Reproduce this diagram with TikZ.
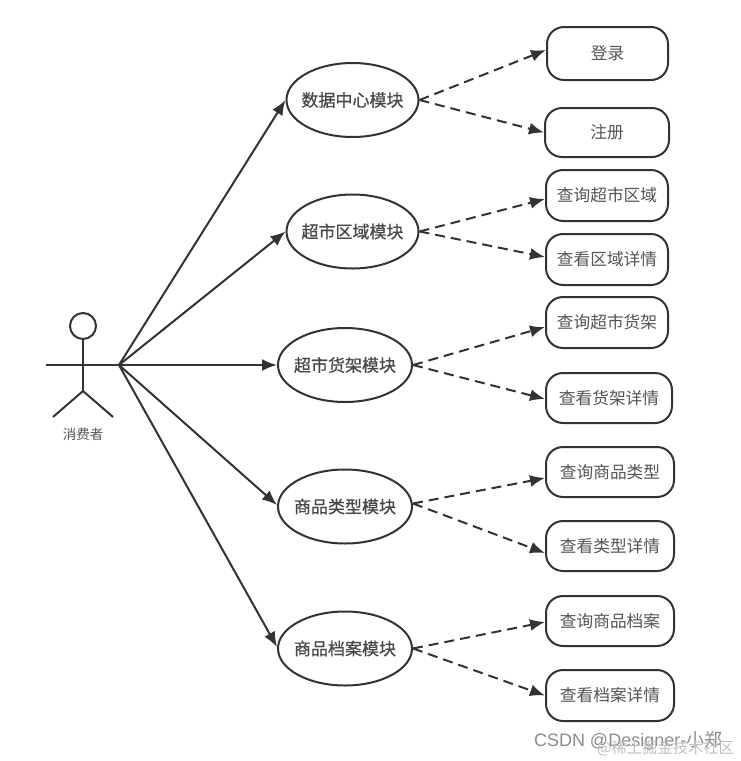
\documentclass[tikz,border=0pt]{standalone}
\usepackage{fontspec}
\usepackage{xcolor}
\usepackage{tikz}
\usetikzlibrary{arrows.meta, shapes.geometric}
\setmainfont{Noto Sans CJK SC}
\newfontfamily\latinfont{Liberation Sans}
\newfontfamily\modfont[FakeBold=0.7]{Noto Sans CJK SC}
\definecolor{linegray}{HTML}{333333}
\definecolor{textgray}{HTML}{555555}
\newcommand{\boxtext}[1]{\raisebox{-1pt}{\makebox[80pt]{#1}}}

\begin{document}
\begin{tikzpicture}[x=1pt, y=-1pt, line width=2pt, draw=linegray,
        module/.style={draw, ellipse, minimum width=134pt, minimum height=74pt, inner sep=0pt, font=\fontsize{17}{18}\modfont\selectfont, text=black!72},
        func/.style={draw, rounded corners=17pt, inner sep=0pt, fill=white, font=\fontsize{16.7}{18}\selectfont, text=textgray},
        solidarrow/.style={-{Latex[length=15pt, width=12pt]}, linegray},
        dasharrow/.style={-{Latex[length=15pt, width=12pt]}, linegray, dash pattern=on 10pt off 6pt}]
            \useasboundingbox (0,0) rectangle (741,761);

            % Actor
            \node (head) [draw, circle, minimum size=26pt, inner sep=0pt] at (83,326) {};
            \coordinate (hip) at (83,391);
            \coordinate (armL) at (46,365);
            \coordinate (armR) at (119,365);
            \coordinate (footL) at (53,417);
            \coordinate (footR) at (113,417);
            \node (actor) [font=\fontsize{13.5}{15}\selectfont, text=textgray] at (83,434) {消费者};
            \draw (head) -- (hip);
            \draw (armL) -- (armR);
            \draw (footL) -- (hip) -- (footR);

            % Modules
            \node (A) [module, minimum width=132pt] at (352.5,100) {\boxtext{数据中心模块}};
            \node (B) [module, minimum width=132pt] at (352.5,231.5) {\boxtext{超市区域模块}};
            \node (C) [module] at (345,365) {\boxtext{超市货架模块}};
            \node (D) [module] at (345,506.5) {\boxtext{商品类型模块}};
            \node (E) [module] at (345,648.5) {\boxtext{商品档案模块}};

            % Functions
            \node (A1) [func, minimum width=121pt, minimum height=53pt] at (607.5,53.5) {\boxtext{登录}};
            \node (A2) [func, minimum width=124pt, minimum height=49pt] at (607,132.5) {\boxtext{注册}};
            \node (B1) [func, minimum width=122pt, minimum height=51pt] at (607,195.5) {\boxtext{查询超市区域}};
            \node (B2) [func, minimum width=122pt, minimum height=51pt] at (607,259.5) {\boxtext{查看区域详情}};
            \node (C1) [func, minimum width=122pt, minimum height=51pt] at (607,322.5) {\boxtext{查询超市货架}};
            \node (C2) [func, minimum width=126pt, minimum height=50pt] at (609,398) {\boxtext{查看货架详情}};
            \node (D1) [func, minimum width=128pt, minimum height=50pt] at (610,472) {\boxtext{查询商品类型}};
            \node (D2) [func, minimum width=128pt, minimum height=50pt] at (610,546) {\boxtext{查看类型详情}};
            \node (E1) [func, minimum width=128pt, minimum height=50pt] at (610,621) {\boxtext{查询商品档案}};
            \node (E2) [func, minimum width=128pt, minimum height=51pt] at (610,695.5) {\boxtext{查看档案详情}};

            % Actor to modules
            \draw [solidarrow] (armR) to (A.west);
            \draw [solidarrow] (armR) to (B.west);
            \draw [solidarrow] (armR) to (C.west);
            \draw [solidarrow] (armR) to ([yshift=1.5pt]D.west);
            \draw [solidarrow] (armR) to ([yshift=1.5pt]E.west);
            % Modules to functions
            \draw [dasharrow] (A.east) to ([yshift=3.5pt]A1.west);
            \draw [dasharrow] (A.east) to (A2.west);
            \draw [dasharrow] (B.east) to ([yshift=-3.5pt]B1.west);
            \draw [dasharrow] (B.east) to ([yshift=2.5pt]B2.west);
            \draw [dasharrow] (C.east) to ([yshift=-4.5pt]C1.west);
            \draw [dasharrow] (C.east) to ([yshift=-1pt]C2.west);
            \draw [dasharrow] ([yshift=3pt]D.east) to ([yshift=-6pt]D1.west);
            \draw [dasharrow] ([yshift=3pt]D.east) to ([yshift=-7pt]D2.west);
            \draw [dasharrow] (E.east) to ([yshift=-1pt]E1.west);
            \draw [dasharrow] (E.east) to (E2.west);

            % Watermark
            \node (mark) [font=\fontsize{18}{20}\selectfont, text=black!45, anchor=west, inner sep=0pt] at (533,741) {{\latinfont CSDN @Designer-}小郑};
            \node (site) [font=\fontsize{15.3}{17}\selectfont, text=black!25, anchor=east, inner sep=0pt] at (735,748) {@稀土掘金技术社区};
        \end{tikzpicture}
\end{document}
